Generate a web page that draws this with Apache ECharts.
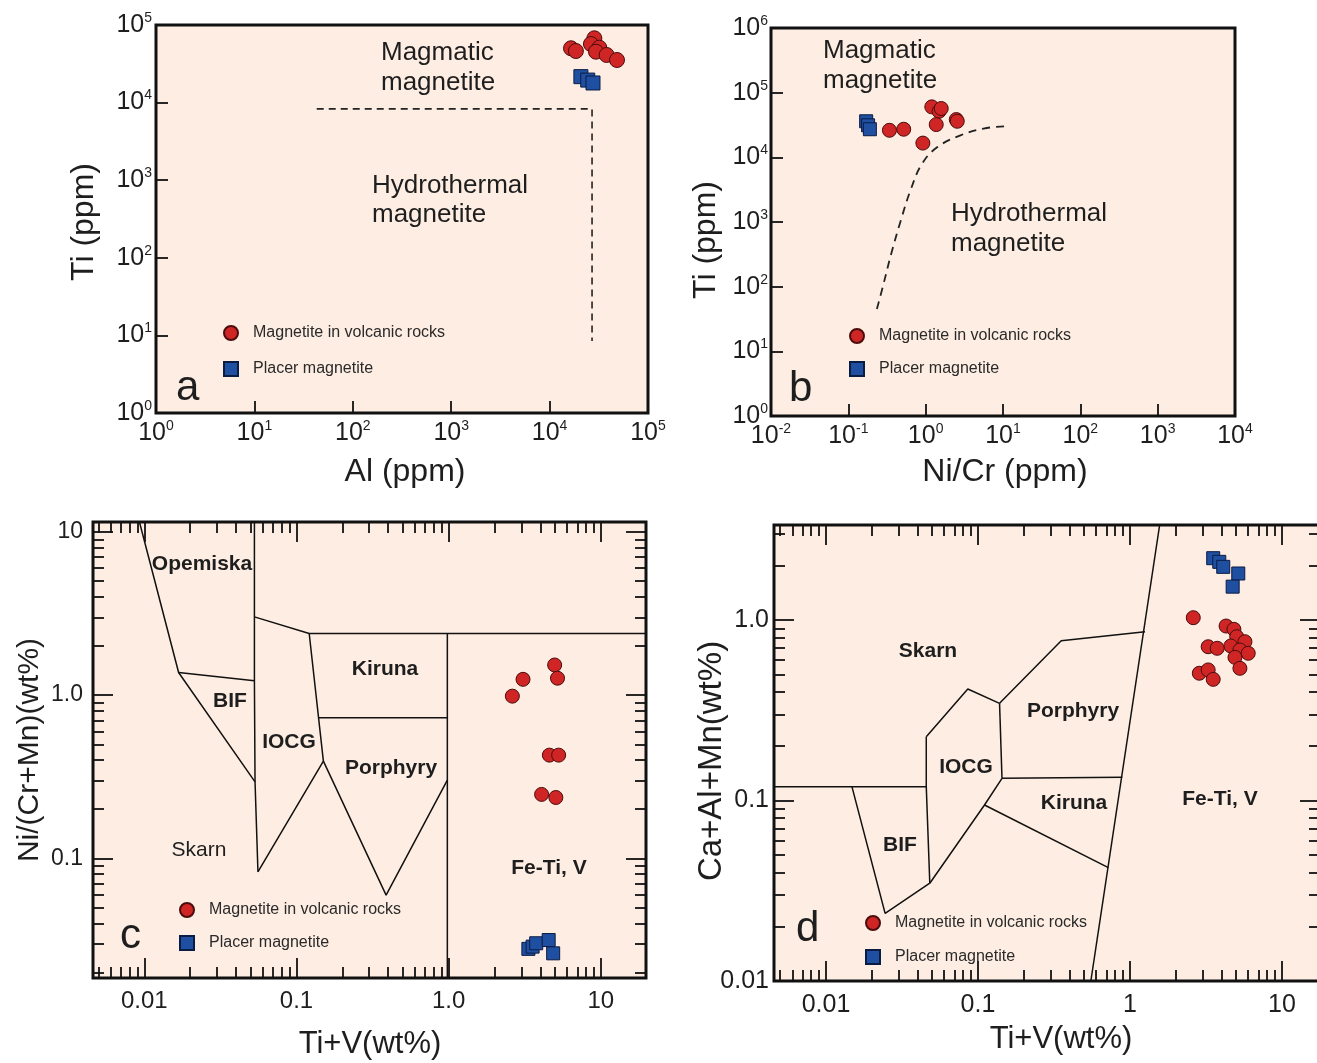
<!DOCTYPE html>
<html><head><meta charset="utf-8">
<script src="https://cdn.jsdelivr.net/npm/echarts@6/dist/echarts.min.js"></script>
<style>html,body{margin:0;padding:0;background:#fff}#chart{width:1317px;height:1063px}</style>
</head><body><div id="chart"></div>
<script>
// ---------- Panel a : Ti vs Al ----------
const aVolcanicAl = [16500, 18500, 28500, 26300, 32000, 29600, 38000, 48400];
const aVolcanicTi = [50100, 46200, 67400, 56900, 51000, 45300, 41100, 35400];
const aPlacerAl = [20800, 24400, 27600];
const aPlacerTi = [21600, 19500, 17900];
const aBoundaryAl = [43, 27000, 27000];
const aBoundaryTi = [8300, 8300, 8.5];
const aTicks = [1, 10, 100, 1000, 10000, 100000];

// ---------- Panel b : Ti vs Ni/Cr ----------
const bVolcanicNiCr = [0.34, 0.52, 1.2, 1.49, 1.59, 1.37, 2.49, 2.56, 0.92];
const bVolcanicTi = [26200, 27200, 60300, 51600, 56900, 32100, 38400, 36100, 16600];
const bPlacerNiCr = [0.17, 0.18, 0.19];
const bPlacerTi = [36100, 31300, 27200];
const bBoundaryNiCr = [0.234, 0.285, 0.358, 0.477, 0.636, 0.898, 1.42, 2.82, 5.62, 10.6];
const bBoundaryTi = [45, 110, 321, 1055, 3080, 7980, 14400, 21900, 27900, 30200];
const bxTicks = [0.01, 0.1, 1, 10, 100, 1000, 10000];
const byTicks = [1, 10, 100, 1000, 10000, 100000, 1000000];

// ---------- Panel c : Ni/(Cr+Mn) vs Ti+V ----------
const cVolcanicTiV = [2.62, 3.08, 4.97, 5.19, 4.59, 5.28, 4.08, 5.06];
const cVolcanicNi = [0.986, 1.25, 1.53, 1.27, 0.429, 0.429, 0.2465, 0.236];
const cPlacerTiV = [3.34, 3.56, 3.76, 4.54, 4.86];
const cPlacerNi = [0.0279, 0.0288, 0.0302, 0.0316, 0.0262];
const cBoundaries = [
  [[0.00929, 11.5], [0.0168, 1.377], [0.0534, 0.2944]],
  [[0.0168, 1.377], [0.0529, 1.224]],
  [[0.0529, 11.5], [0.0529, 3.017], [0.0529, 1.224], [0.0534, 0.2944], [0.0558, 0.0828]],
  [[0.0529, 3.017], [0.1212, 2.387], [19.8, 2.387]],
  [[0.1212, 2.387], [0.1502, 0.394], [0.0558, 0.0828]],
  [[0.1396, 0.726], [0.98, 0.726]],
  [[0.1502, 0.394], [0.388, 0.0596], [0.98, 0.3016]],
  [[0.98, 2.387], [0.98, 0.0185]]
];
const cxMajor = [0.01, 0.1, 1, 10];
const cxMinor = [0.005, 0.006, 0.007, 0.008, 0.009, 0.02, 0.03, 0.04, 0.05, 0.06, 0.07, 0.08, 0.09,
  0.2, 0.3, 0.4, 0.5, 0.6, 0.7, 0.8, 0.9, 2, 3, 4, 5, 6, 7, 8, 9];
const cxLabels = ['0.01', '0.1', '1.0', '10'];
const cyMajor = [0.1, 1, 10];
const cyMinor = [0.02, 0.03, 0.04, 0.05, 0.06, 0.07, 0.08, 0.09,
  0.2, 0.3, 0.4, 0.5, 0.6, 0.7, 0.8, 0.9, 2, 3, 4, 5, 6, 7, 8, 9];
const cyLabels = ['0.1', '1.0', '10'];

// ---------- Panel d : Ca+Al+Mn vs Ti+V ----------
const dVolcanicTiV = [2.61, 4.29, 4.83, 5.04, 5.71, 4.61, 5.29, 6.00, 3.27, 3.75, 4.91, 5.29, 2.86, 3.27, 3.53];
const dVolcanicCa = [1.03, 0.926, 0.888, 0.808, 0.758, 0.718, 0.682, 0.654, 0.711, 0.697, 0.621, 0.540, 0.507, 0.529, 0.469];
const dPlacerTiV = [3.53, 3.87, 4.11, 5.16, 4.74];
const dPlacerCa = [2.20, 2.10, 1.97, 1.81, 1.53];
const dBoundaries = [
  [[0.00455, 0.119], [0.0457, 0.119]],
  [[0.01483, 0.119], [0.0245, 0.0237], [0.0482, 0.0348]],
  [[0.0457, 0.2257], [0.0457, 0.119], [0.0482, 0.0348]],
  [[0.0457, 0.2257], [0.0857, 0.415], [0.1387, 0.3455]],
  [[0.1387, 0.3455], [0.1439, 0.1327]],
  [[0.1439, 0.1327], [0.1104, 0.0944], [0.0482, 0.0348]],
  [[0.1387, 0.3455], [0.353, 0.768], [1.257, 0.861]],
  [[0.1439, 0.1327], [0.891, 0.1344]],
  [[0.1104, 0.0944], [0.721, 0.0425]],
  [[1.568, 3.36], [0.553, 0.01]]
];
const dxMajor = [0.01, 0.1, 1, 10];
const dxMinor = [0.005, 0.006, 0.007, 0.008, 0.009, 0.02, 0.03, 0.04, 0.05, 0.06, 0.07, 0.08, 0.09,
  0.2, 0.3, 0.4, 0.5, 0.6, 0.7, 0.8, 0.9, 2, 3, 4, 5, 6, 7, 8, 9];
const dxLabels = ['0.01', '0.1', '1', '10'];
const dyMajor = [0.01, 0.1, 1];
const dyMinor = [0.02, 0.03, 0.04, 0.05, 0.06, 0.07, 0.08, 0.09,
  0.2, 0.3, 0.4, 0.5, 0.6, 0.7, 0.8, 0.9, 2, 3];
const dyLabels = ['0.01', '0.1', '1.0'];

const NAME_V = 'Magnetite in volcanic rocks';
const NAME_P = 'Placer magnetite';

// ---------- styling ----------
const FONT = "'Liberation Sans', Arial, Helvetica, sans-serif";
const INK = '#1e1e1e';
const PEACH = '#fdede2';
const RED = '#d02525', RED_EDGE = '#4a0c0c';
const BLUE = '#1f4fa0', BLUE_EDGE = '#0b1c44';
const SQUARE_ICON = 'path://M0,0 L10,0 L10,10 L0,10 Z';

const zip = (xs, ys) => xs.map((x, i) => [x, ys[i]]);
const powLabel = v => '10{s|' + Math.round(Math.log10(v)) + '}';
const labelFrom = (vals, texts) => v => {
  let best = 0;
  vals.forEach((t, i) => { if (Math.abs(Math.log10(t) - Math.log10(v)) < Math.abs(Math.log10(vals[best]) - Math.log10(v))) best = i; });
  return texts[best];
};

const grids = [
  {left: 156, top: 25, width: 492, height: 388},
  {left: 771, top: 28, width: 464, height: 388},
  {left: 93, top: 522, width: 553, height: 456},
  {left: 774, top: 525, width: 546, height: 456}
].map(g => Object.assign({show: true, backgroundColor: PEACH, borderColor: '#111', borderWidth: 3,
  containLabel: false, outerBoundsMode: 'none'}, g));

function axis(gridIndex, min, max, position, tick, label) {
  return {
    type: 'log', logBase: 10, gridIndex, min, max, position,
    axisLine: {show: false}, splitLine: {show: false},
    minorTick: {show: false}, minorSplitLine: {show: false},
    axisTick: Object.assign({show: true, inside: true, lineStyle: {color: '#111', width: 1.8}}, tick),
    axisLabel: label ? Object.assign({show: true, color: INK, fontFamily: FONT}, label) : {show: false}
  };
}
const supRich = {s: {fontSize: 14, lineHeight: 14, verticalAlign: 'top', fontFamily: FONT, color: INK}};
const powLabelStyle = (vals, margin) => ({customValues: vals, formatter: powLabel, margin, fontSize: 25, lineHeight: 28, rich: supRich});

const xAxes = [
  axis(0, 1, 100000, 'bottom', {length: 12, customValues: aTicks}, powLabelStyle(aTicks, 6)),
  axis(1, 0.01, 10000, 'bottom', {length: 12, customValues: bxTicks}, powLabelStyle(bxTicks, 6)),
  axis(2, 0.0046, 19.8, 'bottom', {length: 20, customValues: cxMajor},
    {customValues: cxMajor, formatter: labelFrom(cxMajor, cxLabels), margin: 11, fontSize: 24}),
  axis(2, 0.0046, 19.8, 'bottom', {length: 11, customValues: cxMinor}),
  axis(2, 0.0046, 19.8, 'top', {length: 20, customValues: cxMajor}),
  axis(2, 0.0046, 19.8, 'top', {length: 11, customValues: cxMinor}),
  axis(3, 0.00455, 17.8, 'bottom', {length: 20, customValues: dxMajor},
    {customValues: dxMajor, formatter: labelFrom(dxMajor, dxLabels), margin: 12, fontSize: 25}),
  axis(3, 0.00455, 17.8, 'bottom', {length: 11, customValues: dxMinor}),
  axis(3, 0.00455, 17.8, 'top', {length: 20, customValues: dxMajor}),
  axis(3, 0.00455, 17.8, 'top', {length: 11, customValues: dxMinor})
];
const yAxes = [
  axis(0, 1, 100000, 'left', {length: 12, customValues: aTicks}, powLabelStyle(aTicks, 4)),
  axis(1, 1, 1000000, 'left', {length: 12, customValues: byTicks}, powLabelStyle(byTicks, 3)),
  axis(2, 0.0185, 11.5, 'left', {length: 20, customValues: cyMajor},
    {customValues: cyMajor, formatter: labelFrom(cyMajor, cyLabels), margin: 10, fontSize: 23}),
  axis(2, 0.0185, 11.5, 'left', {length: 11, customValues: cyMinor}),
  axis(2, 0.0185, 11.5, 'right', {length: 20, customValues: cyMajor}),
  axis(2, 0.0185, 11.5, 'right', {length: 11, customValues: cyMinor}),
  axis(3, 0.01, 3.36, 'left', {length: 20, customValues: dyMajor},
    {customValues: dyMajor, formatter: labelFrom(dyMajor, dyLabels), margin: 5, fontSize: 25}),
  axis(3, 0.01, 3.36, 'left', {length: 11, customValues: dyMinor}),
  axis(3, 0.01, 3.36, 'right', {length: 20, customValues: dyMajor}),
  axis(3, 0.01, 3.36, 'right', {length: 11, customValues: dyMinor})
];

function scatter(name, data, xi, yi, symbol, size, color, edge) {
  return {type: 'scatter', name, xAxisIndex: xi, yAxisIndex: yi, symbol, symbolSize: size, data,
    itemStyle: {color, borderColor: edge, borderWidth: 1, opacity: 1}, z: 5, silent: true};
}
function line(data, xi, yi, style, smooth) {
  return {type: 'line', xAxisIndex: xi, yAxisIndex: yi, data, symbol: 'none', showSymbol: false,
    smooth: smooth || false, lineStyle: Object.assign({color: '#111', width: 1.5}, style), z: 3, silent: true};
}

const series = [
  line(zip(aBoundaryAl, aBoundaryTi), 0, 0, {type: [7, 5], width: 1.6, color: '#222'}),
  scatter(NAME_V, zip(aVolcanicAl, aVolcanicTi), 0, 0, 'circle', 15, RED, RED_EDGE),
  scatter(NAME_P, zip(aPlacerAl, aPlacerTi), 0, 0, 'rect', 14, BLUE, BLUE_EDGE),
  line(zip(bBoundaryNiCr, bBoundaryTi), 1, 1, {type: [8, 6], width: 1.8, color: '#222'}, 0.4),
  scatter(NAME_V, zip(bVolcanicNiCr, bVolcanicTi), 1, 1, 'circle', 14, RED, RED_EDGE),
  scatter(NAME_P, zip(bPlacerNiCr, bPlacerTi), 1, 1, 'rect', 13, BLUE, BLUE_EDGE)
];
cBoundaries.forEach(seg => series.push(line(seg, 2, 2, {})));
series.push(scatter(NAME_V, zip(cVolcanicTiV, cVolcanicNi), 2, 2, 'circle', 14, RED, RED_EDGE));
series.push(scatter(NAME_P, zip(cPlacerTiV, cPlacerNi), 2, 2, 'rect', 13, BLUE, BLUE_EDGE));
dBoundaries.forEach(seg => series.push(line(seg, 6, 6, {})));
series.push(scatter(NAME_V, zip(dVolcanicTiV, dVolcanicCa), 6, 6, 'circle', 14, RED, RED_EDGE));
series.push(scatter(NAME_P, zip(dPlacerTiV, dPlacerCa), 6, 6, 'rect', 13, BLUE, BLUE_EDGE));

const legendBase = {orient: 'vertical', padding: 0, itemWidth: 34, itemHeight: 14, symbolKeepAspect: true,
  data: [{name: NAME_V, icon: 'circle'}, {name: NAME_P, icon: SQUARE_ICON}],
  selectedMode: false, textStyle: {fontSize: 16, lineHeight: 16, color: '#2a2a2a', fontFamily: FONT}};
const legends = [
  {left: 223, top: 325, itemGap: 20},
  {left: 849, top: 328, itemGap: 17},
  {left: 179, top: 902, itemGap: 17},
  {left: 865, top: 915, itemGap: 18}
].map(l => Object.assign({}, legendBase, l));

function txt(text, x, y, size, opt) {
  opt = opt || {};
  return {type: 'text', x, y, rotation: opt.rot || 0, silent: true, z: 20,
    style: {text, fontSize: size, fontFamily: FONT, fontWeight: opt.bold ? 'bold' : 'normal', fill: INK,
      align: opt.align || 'left', verticalAlign: 'middle'}};
}
const C = {align: 'center'};
const B = {align: 'center', bold: true};
const R = {align: 'center', rot: Math.PI / 2};
const graphics = [
  // panel a
  txt('Magmatic', 381, 53, 26), txt('magnetite', 381, 83, 26),
  txt('Hydrothermal', 372, 186, 26), txt('magnetite', 372, 215, 26),
  txt('a', 176, 388, 42),
  txt('Al (ppm)', 405, 472, 32, C), txt('Ti (ppm)', 84, 222, 32, R),
  // panel b
  txt('Magmatic', 823, 51, 26), txt('magnetite', 823, 81, 26),
  txt('Hydrothermal', 951, 214, 26), txt('magnetite', 951, 244, 26),
  txt('b', 789, 389, 42),
  txt('Ni/Cr (ppm)', 1005, 472, 32, C), txt('Ti (ppm)', 706, 240, 32, R),
  // panel c
  txt('Opemiska', 202, 564, 21, B), txt('BIF', 230, 701, 21, B), txt('IOCG', 289, 742, 21, B),
  txt('Kiruna', 385, 669, 21, B), txt('Porphyry', 391, 768, 21, B), txt('Fe-Ti, V', 549, 868, 21, B),
  txt('Skarn', 199, 850, 21, C),
  txt('c', 120, 936, 42),
  txt('Ti+V(wt%)', 370, 1044, 31, C), txt('Ni/(Cr+Mn)(wt%)', 30, 750, 30, R),
  // panel d
  txt('Skarn', 928, 651, 21, B), txt('Porphyry', 1073, 711, 21, B), txt('IOCG', 966, 767, 21, B),
  txt('Kiruna', 1074, 803, 21, B), txt('BIF', 900, 845, 21, B), txt('Fe-Ti, V', 1220, 799, 21, B),
  txt('d', 796, 929, 42),
  txt('Ti+V(wt%)', 1061, 1039, 31, C), txt('Ca+Al+Mn(wt%)', 712, 761, 33, R)
];

const chart = echarts.init(document.getElementById('chart'), null, {renderer: 'canvas'});
chart.setOption({
  animation: false,
  backgroundColor: '#ffffff',
  textStyle: {fontFamily: FONT},
  grid: grids,
  xAxis: xAxes,
  yAxis: yAxes,
  legend: legends,
  series,
  graphic: graphics
});
</script>
</body></html>
